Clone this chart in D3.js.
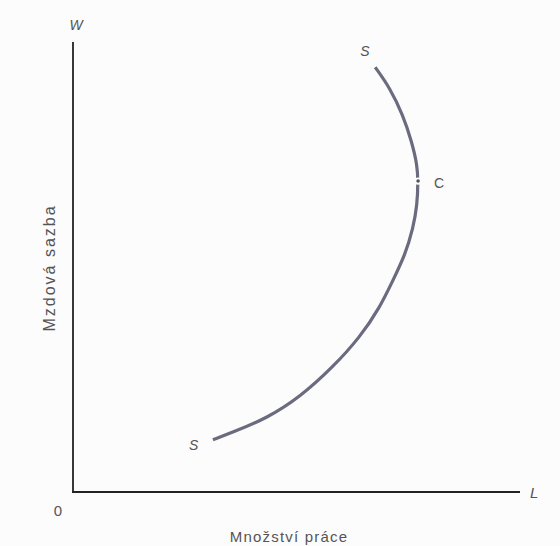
<!DOCTYPE html>
<html>
<head>
<meta charset="utf-8">
<script src="https://cdn.jsdelivr.net/npm/d3@7"></script>
<style>
  html, body { margin: 0; padding: 0; background: #fcfcfc; }
  #chart { width: 560px; height: 546px; }
</style>
</head>
<body>
<div id="chart"></div>
<script>
// backward-bending labour supply curve (L = quantity of labour, W = wage rate)
const labour = [31.3, 35.8, 43.4, 50.8, 58.2, 64.2, 68.7, 71.6, 74.3, 76.1, 77.0, 77.2, 77.0, 75.8, 73.8, 70.9, 67.6];
const wage   = [11.6, 13.3, 16.4, 21.1, 27.8, 34.4, 41.1, 47.1, 52.7, 58.7, 63.8, 69.1, 72.7, 77.8, 83.8, 89.8, 94.4];
const pointC = [77.2, 69.1];
const xTitle = "Množství práce";
const yTitle = "Mzdová sazba";

function drawSupplyCurve(divId) {
  const width = 560, height = 546;
  const margin = { top: 42, right: 40, bottom: 54, left: 73 };

  const svg = d3.select(`#${divId}`)
    .append("svg")
    .attr("width", width)
    .attr("height", height);

  const xScale = d3.scaleLinear().domain([0, 100]).range([margin.left, width - margin.right]);
  const yScale = d3.scaleLinear().domain([0, 100]).range([height - margin.bottom, margin.top]);

  const textColor = "#555";

  // axes
  svg.append("line")
    .attr("x1", xScale(0)).attr("x2", xScale(0))
    .attr("y1", yScale(0)).attr("y2", yScale(100))
    .attr("stroke", "#222").attr("stroke-width", 1.8);
  svg.append("line")
    .attr("x1", xScale(0) - 1).attr("x2", xScale(100))
    .attr("y1", yScale(0)).attr("y2", yScale(0))
    .attr("stroke", "#222").attr("stroke-width", 1.8);

  // supply curve
  const points = labour.map((l, i) => [l, wage[i]]);
  const line = d3.line()
    .x(d => xScale(d[0]))
    .y(d => yScale(d[1]))
    .curve(d3.curveBasis);

  svg.append("path")
    .datum(points)
    .attr("d", line)
    .attr("fill", "none")
    .attr("stroke", "#6b6b80")
    .attr("stroke-width", 3.2)
    .attr("stroke-linecap", "butt");

  // point C: small break with a dot
  svg.append("circle")
    .attr("cx", xScale(pointC[0])).attr("cy", yScale(pointC[1]))
    .attr("r", 3.6).attr("fill", "#fcfcfc");
  svg.append("circle")
    .attr("cx", xScale(pointC[0])).attr("cy", yScale(pointC[1]))
    .attr("r", 1.8).attr("fill", "#555");

  const font = "Liberation Sans, Arial, sans-serif";

  // labels on curve
  const last = points[points.length - 1];
  svg.append("text")
    .attr("x", xScale(last[0]) - 15).attr("y", yScale(last[1]) - 11)
    .attr("font-family", font).attr("font-size", 14).attr("font-style", "italic")
    .attr("fill", textColor).text("S");
  svg.append("text")
    .attr("x", xScale(points[0][0]) - 24).attr("y", yScale(points[0][1]) + 10)
    .attr("font-family", font).attr("font-size", 14).attr("font-style", "italic")
    .attr("fill", textColor).text("S");
  svg.append("text")
    .attr("x", xScale(pointC[0]) + 16).attr("y", yScale(pointC[1]) + 7)
    .attr("font-family", font).attr("font-size", 14)
    .attr("fill", textColor).text("C");

  // axis ends
  svg.append("text")
    .attr("x", xScale(0) + 3).attr("y", yScale(100) - 12)
    .attr("text-anchor", "middle")
    .attr("font-family", font).attr("font-size", 14).attr("font-style", "italic")
    .attr("fill", textColor).text("W");
  svg.append("text")
    .attr("x", xScale(100) + 10).attr("y", yScale(0) + 6)
    .attr("font-family", font).attr("font-size", 15).attr("font-style", "italic")
    .attr("fill", textColor).text("L");
  svg.append("text")
    .attr("x", xScale(0) - 15).attr("y", yScale(0) + 24)
    .attr("text-anchor", "middle")
    .attr("font-family", font).attr("font-size", 15)
    .attr("fill", textColor).text("0");

  // axis titles
  svg.append("text")
    .attr("x", 289).attr("y", 542)
    .attr("text-anchor", "middle")
    .attr("font-family", font).attr("font-size", 15)
    .attr("letter-spacing", 1.2)
    .attr("fill", textColor).text(xTitle);
  svg.append("text")
    .attr("transform", "rotate(-90)")
    .attr("x", -268).attr("y", 55)
    .attr("text-anchor", "middle")
    .attr("font-family", font).attr("font-size", 16)
    .attr("letter-spacing", 2)
    .attr("fill", textColor).text(yTitle);
}

drawSupplyCurve("chart");
</script>
</body>
</html>
